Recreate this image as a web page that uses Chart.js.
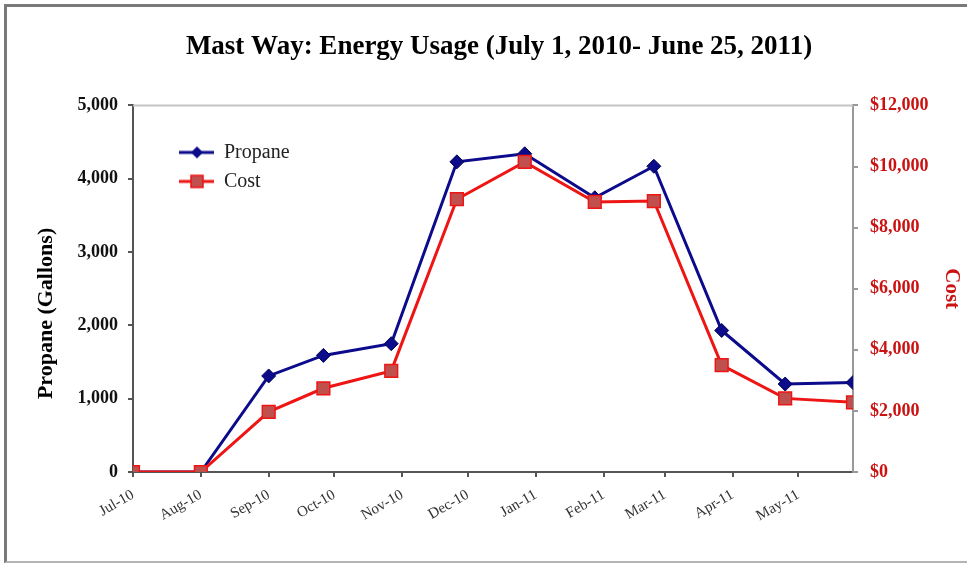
<!DOCTYPE html>
<html>
<head>
<meta charset="utf-8">
<script src="https://cdn.jsdelivr.net/npm/chart.js@4.4.1/dist/chart.umd.min.js"></script>
<style>
  html, body { margin: 0; padding: 0; background: #fff; overflow: hidden; }
  #wrap { position: relative; width: 967px; height: 564px; overflow: hidden; }
  #frame {
    position: absolute; left: 4px; top: 4px; width: 963px; height: 559px;
    border-top: 3px solid #7a7a7a; border-left: 3px solid #7a7a7a;
    border-bottom: 2px solid #b4b4b4;
    box-sizing: border-box; pointer-events: none;
  }
  canvas { position: absolute; left: 0; top: 0; }
</style>
</head>
<body>
<div id="wrap">
  <canvas id="energyChart" width="998" height="564"></canvas>
  <div id="frame"></div>
</div>
<script>
// reading dates
const readDates = [
  "2010-07-01", "2010-08-01", "2010-09-01", "2010-09-26", "2010-10-27", "2010-11-26",
  "2010-12-27", "2011-01-28", "2011-02-24", "2011-03-27", "2011-04-25", "2011-05-26"
];
const propane = [0, 0, 1310, 1590, 1750, 4230, 4340, 3740, 4170, 1930, 1200, 1220];
const cost = [0, 0, 1970, 2740, 3310, 8930, 10150, 8840, 8870, 3500, 2410, 2280];

const monthStarts = [
  "2010-07-01", "2010-08-01", "2010-09-01", "2010-10-01", "2010-11-01", "2010-12-01",
  "2011-01-01", "2011-02-01", "2011-03-01", "2011-04-01", "2011-05-01"
];
const monthLabels = [
  "Jul-10", "Aug-10", "Sep-10", "Oct-10", "Nov-10", "Dec-10",
  "Jan-11", "Feb-11", "Mar-11", "Apr-11", "May-11"
];
const propaneTicks = [0, 1000, 2000, 3000, 4000, 5000];
const costTicks = [0, 2000, 4000, 6000, 8000, 10000, 12000];

const serif = "'Liberation Serif', 'Times New Roman', serif";
const navy = "#0b0b8c";
const red = "#ee1515";
const costRed = "#cc1111";

const dayZero = Date.parse(readDates[0]);
const toDay = (d) => Math.round((Date.parse(d) - dayZero) / 86400000);
const monthDays = monthStarts.map(toDay);

// legend icons: a short line with the marker in the middle
function legendIcon(color, marker) {
  const c = document.createElement("canvas");
  c.width = 72;
  c.height = 20;
  const g = c.getContext("2d");
  const x0 = 37, x1 = 72, cx = 55, cy = 10;
  g.strokeStyle = color;
  g.lineWidth = 3;
  g.beginPath();
  g.moveTo(x0, cy);
  g.lineTo(x1, cy);
  g.stroke();
  if (marker === "diamond") {
    g.fillStyle = navy;
    g.beginPath();
    g.moveTo(cx, cy - 6);
    g.lineTo(cx + 6, cy);
    g.lineTo(cx, cy + 6);
    g.lineTo(cx - 6, cy);
    g.closePath();
    g.fill();
  } else {
    g.fillStyle = "#c0504d";
    g.strokeStyle = red;
    g.lineWidth = 1.5;
    g.fillRect(cx - 6, cy - 6, 12, 12);
    g.strokeRect(cx - 6, cy - 6, 12, 12);
  }
  return c;
}

// top edge of the plot frame
const frameTop = {
  id: "frameTop",
  beforeDatasetsDraw(chart) {
    const { ctx, chartArea } = chart;
    ctx.save();
    ctx.strokeStyle = "#c4c4c4";
    ctx.lineWidth = 2;
    ctx.beginPath();
    ctx.moveTo(chartArea.left, chartArea.top);
    ctx.lineTo(chartArea.right, chartArea.top);
    ctx.stroke();
    ctx.restore();
  },
};

// a vertical legend in the chartArea gets top = 0, move it down into the plot
const legendInside = {
  id: "legendInside",
  afterLayout(chart) {
    const lg = chart.legend;
    const h = lg.bottom - lg.top;
    lg.top = chart.chartArea.top;
    lg.bottom = lg.top + h;
  },
};

const ctx = document.getElementById("energyChart").getContext("2d");

const energyChart = new Chart(ctx, {
  type: "line",
  data: {
    datasets: [
      {
        label: "Propane",
        data: readDates.map((d, i) => ({ x: toDay(d), y: propane[i] })),
        yAxisID: "y",
        borderColor: navy,
        borderWidth: 3,
        pointStyle: "rectRot",
        pointRadius: 7,
        pointHoverRadius: 7,
        pointBackgroundColor: navy,
        pointBorderColor: "#050550",
        pointBorderWidth: 1,
        tension: 0,
        order: 2,
        icon: legendIcon(navy, "diamond"),
      },
      {
        label: "Cost",
        data: readDates.map((d, i) => ({ x: toDay(d), y: cost[i] })),
        yAxisID: "y1",
        borderColor: red,
        borderWidth: 3,
        pointStyle: "rect",
        pointRadius: 9,
        pointHoverRadius: 9,
        pointBackgroundColor: "#c0504d",
        pointBorderColor: red,
        pointBorderWidth: 1.5,
        tension: 0,
        order: 1,
        icon: legendIcon(red, "square"),
      },
    ],
  },
  options: {
    responsive: false,
    animation: false,
    layout: {
      padding: { left: 14, right: 14, top: 0, bottom: 0 },
    },
    plugins: {
      title: {
        display: true,
        text: "Mast Way: Energy Usage (July 1, 2010- June 25, 2011)",
        color: "#000",
        font: { family: serif, size: 27, weight: "bold" },
        padding: { top: 31, bottom: 42 },
      },
      legend: {
        position: "chartArea",
        align: "start",
        title: { display: true, text: " ", font: { size: 10 }, padding: 8 },
        labels: {
          usePointStyle: true,
          pointStyleWidth: 72,
          boxHeight: 20,
          padding: 9,
          color: "#222",
          font: { family: serif, size: 20 },
          generateLabels: (chart) =>
            chart.data.datasets.map((ds, i) => ({
              text: ds.label,
              pointStyle: ds.icon,
              datasetIndex: i,
              fontColor: "#222",
              lineWidth: 0,
              strokeStyle: "transparent",
              fillStyle: "transparent",
              hidden: false,
            })),
        },
      },
      tooltip: { enabled: false },
    },
    scales: {
      x: {
        type: "linear",
        min: 0,
        max: toDay(readDates[readDates.length - 1]),
        afterBuildTicks: (axis) => {
          axis.ticks = monthDays.map((v) => ({ value: v }));
        },
        afterFit: (axis) => {
          axis.height = 92;
        },
        ticks: {
          autoSkip: false,
          minRotation: 30,
          maxRotation: 30,
          padding: 9,
          color: "#333",
          font: { family: serif, size: 15 },
          callback: (v, i) => monthLabels[i],
        },
        grid: { drawOnChartArea: false, color: "#555", lineWidth: 2, tickLength: 5 },
        border: { color: "#555", width: 2 },
      },
      y: {
        position: "left",
        min: 0,
        max: 5000,
        afterBuildTicks: (axis) => {
          axis.ticks = propaneTicks.map((v) => ({ value: v }));
        },
        afterFit: (axis) => {
          axis.width = 119;
        },
        ticks: {
          padding: 10,
          color: "#111",
          font: { family: serif, size: 18, weight: "bold" },
          callback: (v) => v.toLocaleString("en-US"),
        },
        grid: { drawOnChartArea: false, color: "#555", lineWidth: 2, tickLength: 5 },
        border: { color: "#555", width: 2 },
        title: {
          display: true,
          text: "Propane (Gallons)" + "\u00a0".repeat(9),
          color: "#000",
          font: { family: serif, size: 22, weight: "bold" },
          padding: { top: 19, bottom: 0 },
        },
      },
      y1: {
        position: "right",
        min: 0,
        max: 12000,
        afterBuildTicks: (axis) => {
          axis.ticks = costTicks.map((v) => ({ value: v }));
        },
        afterFit: (axis) => {
          axis.width = 131;
        },
        ticks: {
          padding: 12,
          color: costRed,
          font: { family: serif, size: 18, weight: "bold" },
          callback: (v) => "$" + v.toLocaleString("en-US"),
        },
        grid: { drawOnChartArea: false, color: "#999", lineWidth: 2, tickLength: 5 },
        border: { color: "#999", width: 2 },
        title: {
          display: true,
          text: "Cost",
          color: costRed,
          font: { family: serif, size: 21, weight: "bold" },
          padding: { top: 20, bottom: 0 },
        },
      },
    },
  },
  plugins: [frameTop, legendInside],
});
</script>
</body>
</html>
